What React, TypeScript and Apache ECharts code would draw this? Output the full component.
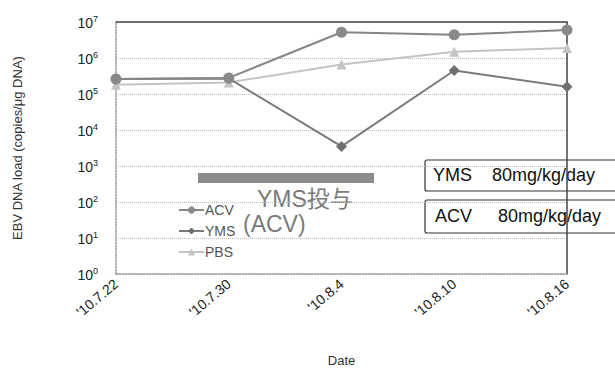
import React, { useEffect, useRef } from "react";
import * as echarts from "echarts";

const categories = ["'10.7.22", "'10.7.30", "'10.8.4", "'10.8.10", "'10.8.16"];
const acv = [2.6e5, 2.8e5, 5.2e6, 4.4e6, 6.0e6];
const yms = [2.6e5, 2.7e5, 3.5e3, 4.5e5, 1.6e5];
const pbs = [1.8e5, 2.1e5, 6.6e5, 1.5e6, 1.9e6];

const FONT = "Liberation Sans";

export default function App() {
  const ref = useRef<HTMLDivElement>(null);
  useEffect(() => {
    const chart = echarts.init(ref.current!, null, { renderer: "svg" });
    chart.setOption({
      animation: false,
      textStyle: { fontFamily: FONT },
      grid: { left: 116, right: 48, top: 22, bottom: 94 },
      legend: {
        orient: "vertical",
        left: 173,
        top: 198,
        itemGap: 7,
        itemWidth: 25,
        itemHeight: 9,
        textStyle: { fontFamily: FONT, fontSize: 14, color: "#555", padding: [0, 0, 0, -4] },
        data: ["ACV", "YMS", "PBS"],
      },
      xAxis: [
        {
          type: "category",
          data: categories,
          boundaryGap: false,
          axisLine: { lineStyle: { color: "#999", type: "dotted", width: 1.5 } },
          axisTick: { show: false },
          axisLabel: { rotate: 40, fontSize: 14, color: "#222", margin: 8, fontFamily: FONT },
          name: "Date",
          nameLocation: "middle",
          nameGap: 80,
          nameTextStyle: { fontSize: 13, color: "#333", fontFamily: FONT },
        },
        {
          type: "category",
          data: categories,
          boundaryGap: false,
          position: "top",
          axisLine: { lineStyle: { color: "#444", width: 1.5 } },
          axisTick: { show: false },
          axisLabel: { show: false },
        },
      ],
      yAxis: [
        {
          type: "log",
          logBase: 10,
          min: 1,
          max: 1e7,
          axisLine: { show: true, lineStyle: { color: "#999", type: "dotted", width: 1.5 } },
          axisTick: { show: false },
          splitLine: { lineStyle: { color: "#bbb", type: "dotted", width: 1 } },
          axisLabel: {
            color: "#222",
            margin: 18,
            fontFamily: FONT,
            formatter: (v: number) => "{b|10}{s|" + Math.round(Math.log10(v)) + "}",
            rich: {
              b: { fontSize: 14, color: "#222", fontFamily: FONT, verticalAlign: "bottom", lineHeight: 16 },
              s: { fontSize: 9, color: "#222", fontFamily: FONT, verticalAlign: "top", lineHeight: 16, padding: [0, 0, 6, 0] },
            },
          },
          name: "EBV DNA load (copies/μg DNA)",
          nameLocation: "middle",
          nameGap: 92,
          nameTextStyle: { fontSize: 13, color: "#333", fontFamily: FONT },
        },
        {
          type: "log",
          logBase: 10,
          min: 1,
          max: 1e7,
          position: "right",
          axisLine: { show: true, lineStyle: { color: "#444", width: 1.5 } },
          axisTick: { show: false },
          axisLabel: { show: false },
          splitLine: { show: false },
        },
      ],
      series: [
        {
          name: "PBS",
          type: "line",
          data: pbs,
          symbol: "triangle",
          symbolSize: 10,
          lineStyle: { color: "#c4c4c4", width: 2 },
          itemStyle: { color: "#c4c4c4" },
        },
        {
          name: "YMS",
          type: "line",
          data: yms,
          symbol: "diamond",
          symbolSize: 11,
          lineStyle: { color: "#7a7a7a", width: 2 },
          itemStyle: { color: "#6e6e6e" },
        },
        {
          name: "ACV",
          type: "line",
          data: acv,
          symbol: "circle",
          symbolSize: 11,
          lineStyle: { color: "#858585", width: 2 },
          itemStyle: { color: "#8a8a8a" },
        },
      ],
      graphic: [
        { type: "rect", shape: { x: 198, y: 173, width: 176, height: 10 }, style: { fill: "#8c8c8c" } },
        { type: "text", x: 257, y: 187, style: { text: "YMS投与", fontSize: 23, fill: "#7a7a7a", fontFamily: FONT + ", Noto Sans CJK JP" } },
        { type: "text", x: 243, y: 212, style: { text: "(ACV)", fontSize: 23, fill: "#7a7a7a", fontFamily: FONT } },
        { type: "rect", shape: { x: 425, y: 160, width: 200, height: 31, r: 2 }, style: { fill: "#fff", stroke: "#333", lineWidth: 1.2 } },
        { type: "text", x: 433, y: 166, style: { text: "YMS", fontSize: 18, fill: "#111", fontFamily: FONT } },
        { type: "text", x: 492, y: 166, style: { text: "80mg/kg/day", fontSize: 18, fill: "#111", fontFamily: FONT } },
        { type: "rect", shape: { x: 425, y: 200, width: 200, height: 33, r: 2 }, style: { fill: "#fff", stroke: "#333", lineWidth: 1.2 } },
        { type: "text", x: 435, y: 207, style: { text: "ACV", fontSize: 18, fill: "#111", fontFamily: FONT } },
        { type: "text", x: 498, y: 207, style: { text: "80mg/kg/day", fontSize: 18, fill: "#111", fontFamily: FONT } },
      ],
    });
    return () => chart.dispose();
  }, []);
  return <div ref={ref} style={{ width: 615, height: 372, position: "absolute", left: 0, top: 0 }} />;
}
